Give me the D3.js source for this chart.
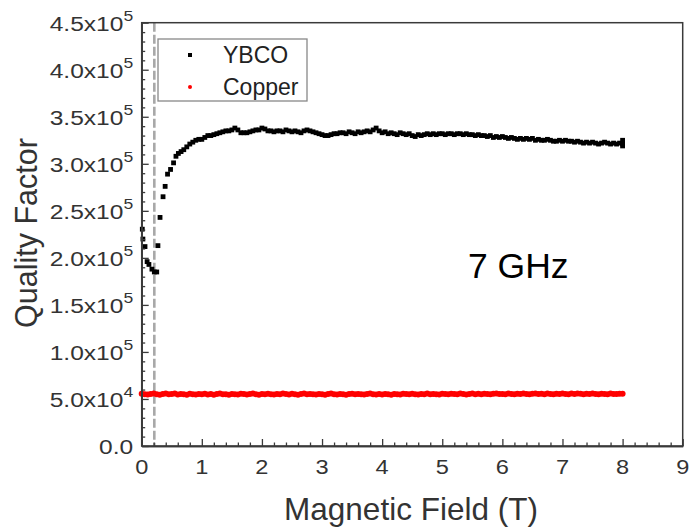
<!DOCTYPE html>
<html>
<head>
<meta charset="utf-8">
<script src="https://cdn.jsdelivr.net/npm/d3@7"></script>
<style>
  body { margin: 0; background: #fff; }
  text { font-family: "Liberation Sans", Arial, sans-serif; fill: #333; }
</style>
</head>
<body>
<svg id="chart" width="690" height="527"></svg>
<script>
// YBCO, low-field points read one by one (field in T, Q in units of 1e3)
const ybcoLowField = [0.01, 0.02, 0.055, 0.09, 0.12, 0.17, 0.21, 0.25, 0.27, 0.305, 0.355, 0.39, 0.43, 0.48, 0.53, 0.57, 0.61, 0.655];
const ybcoLowQ = [230.5, 220, 212, 196, 193, 188, 185, 185, 213, 243, 265, 276, 289, 294, 301, 308, 311, 313];

// YBCO from 0.70 T to 8.00 T, one reading every 0.05 T (Q in 1e3)
const ybcoStart = 0.7;
const ybcoStep = 0.05;
const ybcoQ = [
  315, 318, 321, 323, 325, 326,
  326, 328, 330, 330, 331, 332, 333, 334, 335, 335, 336, 338, 336, 333, 333, 333, 334, 335, 336, 336,
  338, 337, 335, 335, 334, 335, 335, 334, 336, 335, 334, 335, 334, 333, 335, 336, 335, 334, 333, 332,
  331, 330, 330, 331, 332, 332, 333, 333, 332, 334, 333, 332, 334, 333, 334, 335, 334, 336, 338, 335,
  333, 334, 332, 333, 332, 331, 333, 332, 331, 332, 330, 329, 331, 330, 331, 332, 331, 332, 331, 332,
  332, 331, 332, 332, 331, 332, 332, 331, 332, 331, 331, 330, 331, 330, 330, 329, 330, 328, 329, 328,
  329, 328, 327, 328, 327, 326, 327, 326, 327, 326, 327, 325, 326, 325, 325, 326, 325, 324, 324, 325,
  324, 325, 324, 324, 323, 324, 323, 322, 323, 322, 323, 322, 321, 322, 323, 322, 321, 322, 321, 322,
  321
];
const ybcoEndField = [8.0, 8.0];
const ybcoEndQ = [319, 325];

// Copper from 0 T to 8 T every 0.05 T (Q in 1e3)
const copperStart = 0;
const copperStep = 0.05;
const copperQ = [
  55.6, 55.1, 54.7, 55.4, 55.9, 55.0, 54.6, 55.3, 55.8, 54.9, 55.2, 55.7, 54.8, 55.3, 55.0, 54.6, 55.5, 55.1, 54.7, 55.4,
  55.0, 55.6, 54.8, 55.2, 54.5, 55.3, 55.8, 54.9, 55.1, 54.6, 55.4, 55.0, 54.7, 55.5, 55.2, 54.8, 55.3, 55.9, 55.0, 54.6,
  55.3, 54.9, 55.6, 55.1, 54.7, 55.4, 55.0, 55.8, 55.3, 54.8, 55.5, 55.1, 54.6, 55.2, 55.7, 54.9, 55.4, 55.0, 54.7, 55.3,
  55.0, 54.6, 55.4, 55.9, 55.1, 54.8, 55.3, 55.0, 54.5, 55.2, 55.6, 54.9, 55.4, 55.1, 54.7, 55.3, 55.8, 55.0, 54.8, 55.2,
  54.7, 55.3, 55.0, 54.6, 55.4, 55.1, 54.8, 55.5, 55.2, 54.9, 55.6, 55.0, 54.7, 55.3, 55.1, 55.7, 54.9, 55.4, 55.0, 54.8,
  55.5, 55.2, 54.9, 55.6, 55.3, 55.0, 55.7, 55.2, 54.8, 55.4, 55.9, 55.1, 55.5, 55.0, 55.6, 55.3, 54.9, 55.5, 55.8, 55.2,
  55.4, 55.0, 55.7, 55.3, 54.9, 55.6, 55.2, 55.8, 55.4, 55.0, 55.5, 55.9, 55.3, 55.6, 55.1, 55.7, 55.4, 55.0, 55.6, 55.3,
  55.8, 55.4, 55.1, 55.7, 55.3, 55.9, 55.5, 55.0, 55.6, 55.2, 55.8, 55.4, 55.1, 55.6, 55.3, 55.0, 55.7, 55.4, 55.2, 55.6,
  55.5
];

const xTicks = [0, 1, 2, 3, 4, 5, 6, 7, 8, 9];
const yTicks = [0, 50000, 100000, 150000, 200000, 250000, 300000, 350000, 400000, 450000];
const yTickMantissa = ['0.0', '5.0', '1.0', '1.5', '2.0', '2.5', '3.0', '3.5', '4.0', '4.5'];
const yTickExponent = ['', '4', '5', '5', '5', '5', '5', '5', '5', '5'];
const markerField = 0.21;
const seriesNames = ['YBCO', 'Copper'];

const ybco = ybcoLowField.map((f, i) => [f, ybcoLowQ[i] * 1e3])
  .concat(ybcoQ.map((q, i) => [ybcoStart + i * ybcoStep, q * 1e3]))
  .concat(ybcoEndField.map((f, i) => [f, ybcoEndQ[i] * 1e3]));
const copper = copperQ.map((q, i) => [copperStart + i * copperStep, q * 1e3]);

const svg = d3.select('#chart');
const plotLeft = 141.7, plotRight = 682.7, plotTop = 22.7, plotBottom = 446;
const axisColor = '#3a3a3a';

const x = d3.scaleLinear().domain([0, 9]).range([plotLeft, plotRight]);
const y = d3.scaleLinear().domain([0, 450000]).range([plotBottom, plotTop]);

// dashed marker line
svg.append('line')
  .attr('x1', x(markerField)).attr('x2', x(markerField))
  .attr('y1', plotTop).attr('y2', plotBottom)
  .attr('stroke', '#a8a8a8')
  .attr('stroke-width', 2.6)
  .attr('stroke-dasharray', '9,3');

// data
svg.append('g')
  .selectAll('circle')
  .data(copper)
  .enter()
  .append('circle')
  .attr('cx', d => x(d[0]))
  .attr('cy', d => y(d[1]))
  .attr('r', 3)
  .attr('fill', '#ff0000');

svg.append('g')
  .selectAll('rect')
  .data(ybco)
  .enter()
  .append('rect')
  .attr('x', d => x(d[0]) - 2.4)
  .attr('y', d => y(d[1]) - 2.4)
  .attr('width', 4.8)
  .attr('height', 4.8)
  .attr('fill', '#000');

// axes, ticks pointing inward
const minorX = d3.range(0, 9.001, 0.2).filter(v => Math.abs(v - Math.round(v)) > 1e-6);
const minorY = d3.range(0, 450001, 10000).filter(v => v % 50000 !== 0);

const styleAxis = g => {
  g.selectAll('path, line').attr('stroke', axisColor).attr('stroke-width', 1.3);
  g.selectAll('text').remove();
};

svg.append('g')
  .attr('transform', `translate(0,${plotBottom})`)
  .call(d3.axisBottom(x).tickValues(minorX).tickSize(-3.5).tickSizeOuter(0))
  .call(styleAxis);
svg.append('g')
  .attr('transform', `translate(0,${plotBottom})`)
  .call(d3.axisBottom(x).tickValues(xTicks).tickSize(-7).tickSizeOuter(0))
  .call(styleAxis);
svg.append('g')
  .attr('transform', `translate(${plotLeft},0)`)
  .call(d3.axisLeft(y).tickValues(minorY).tickSize(-3.5).tickSizeOuter(0))
  .call(styleAxis);
svg.append('g')
  .attr('transform', `translate(${plotLeft},0)`)
  .call(d3.axisLeft(y).tickValues(yTicks).tickSize(-7).tickSizeOuter(0))
  .call(styleAxis);

// frame
svg.append('rect')
  .attr('x', plotLeft).attr('y', plotTop)
  .attr('width', plotRight - plotLeft).attr('height', plotBottom - plotTop)
  .attr('fill', 'none')
  .attr('stroke', axisColor)
  .attr('stroke-width', 1.5);

// tick labels
svg.append('g')
  .selectAll('text')
  .data(xTicks)
  .enter()
  .append('text')
  .attr('transform', d => `translate(${x(d)},${plotBottom + 28}) scale(1.15,1)`)
  .attr('text-anchor', 'middle')
  .attr('font-size', 20.5)
  .text(d => d);

const yLabels = svg.append('g')
  .selectAll('text')
  .data(yTicks)
  .enter()
  .append('text')
  .attr('transform', d => `translate(${plotLeft - 8.5},${y(d) + 8}) scale(1.17,1)`)
  .attr('text-anchor', 'end')
  .attr('font-size', 21);
yLabels.append('tspan').text((d, i) => yTickMantissa[i] + (yTickExponent[i] ? 'x10' : ''));
yLabels.append('tspan')
  .attr('font-size', 15)
  .attr('dy', -10)
  .text((d, i) => yTickExponent[i]);

// axis titles
svg.append('text')
  .attr('x', 411)
  .attr('y', 520)
  .attr('text-anchor', 'middle')
  .attr('font-size', 31.5)
  .text('Magnetic Field (T)');

svg.append('text')
  .attr('transform', `translate(37,${233}) rotate(-90)`)
  .attr('text-anchor', 'middle')
  .attr('font-size', 30.5)
  .text('Quality Factor');

svg.append('text')
  .attr('x', 468)
  .attr('y', 278)
  .attr('font-size', 35.5)
  .style('fill', '#000')
  .text('7 GHz');

// legend
const legend = svg.append('g');
legend.append('rect')
  .attr('x', 158).attr('y', 39)
  .attr('width', 149).attr('height', 62)
  .attr('fill', '#fff')
  .attr('stroke', '#888')
  .attr('stroke-width', 1.3);
legend.append('rect')
  .attr('x', 188).attr('y', 53)
  .attr('width', 4).attr('height', 4)
  .attr('fill', '#000');
legend.append('circle')
  .attr('cx', 190).attr('cy', 87)
  .attr('r', 2)
  .attr('fill', '#ff0000');
legend.selectAll('text.lbl')
  .data(seriesNames)
  .enter()
  .append('text')
  .attr('class', 'lbl')
  .attr('x', 223)
  .attr('y', (d, i) => 63 + i * 32)
  .attr('font-size', 23)
  .style('fill', '#222')
  .text(d => d);
</script>
</body>
</html>
